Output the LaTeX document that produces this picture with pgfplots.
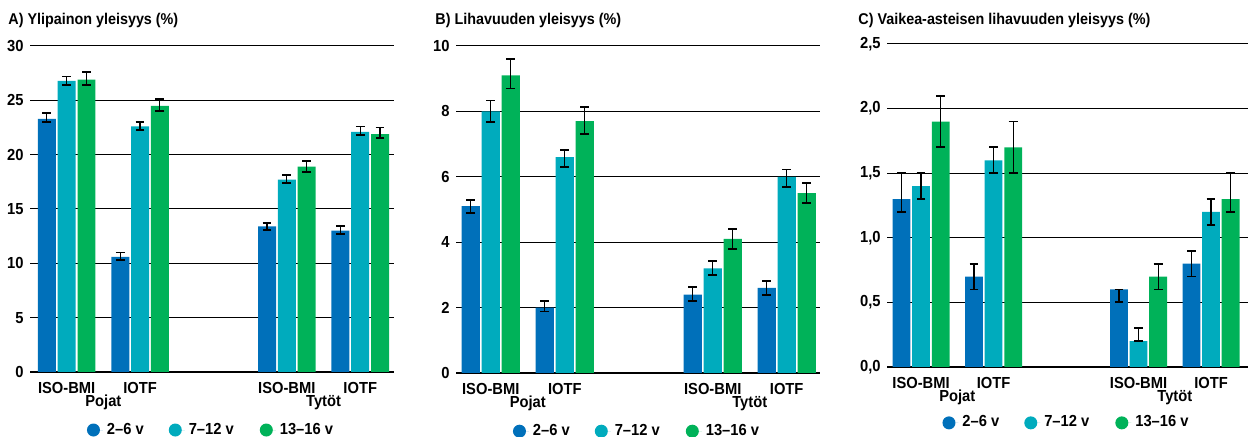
\documentclass[border=0pt]{standalone}
\usepackage{fontspec}
\setmainfont{Liberation Sans}[FakeStretch=0.92]
\usepackage{pgfplots}
\usepackage{pgfplotstable}
\pgfplotsset{compat=1.18}
\definecolor{cBlue}{HTML}{0070BA}
\definecolor{cCyan}{HTML}{00ABBD}
\definecolor{cGreen}{HTML}{00B259}
\newcommand\tf{\fontsize{7.8}{9}\selectfont\bfseries}
\newcommand\kf{\fontsize{8}{9}\selectfont\bfseries}

% x y1 p1 m1 (2-6 v) y2 p2 m2 (7-12 v) y3 p3 m3 (13-16 v)
\pgfplotstableread{
x y1 p1 m1 y2 p2 m2 y3 p3 m3
0 23.3 0.5 0.3 26.8 0.4 0.4 26.9 0.7 0.5
1 10.6 0.4 0.3 22.6 0.4 0.3 24.5 0.6 0.5
3 13.4 0.3 0.3 17.7 0.4 0.3 18.9 0.5 0.5
4 13.0 0.4 0.3 22.1 0.5 0.3 21.9 0.6 0.4
}\dataA
\pgfplotstableread{
x y1 p1 m1 y2 p2 m2 y3 p3 m3
0 5.1 0.2 0.2 8.0 0.33 0.32 9.1 0.5 0.4
1 2.0 0.2 0.12 6.6 0.23 0.3 7.7 0.43 0.4
3 2.4 0.24 0.2 3.2 0.23 0.2 4.1 0.3 0.3
4 2.6 0.22 0.22 6.0 0.22 0.3 5.5 0.32 0.3
}\dataB
\pgfplotstableread{
x y1 p1 m1 y2 p2 m2 y3 p3 m3
0 1.3 0.2 0.1 1.4 0.1 0.1 1.9 0.2 0.2
1 0.7 0.1 0.1 1.6 0.1 0.1 1.7 0.2 0.2
3 0.6 0.0 0.1 0.2 0.1 0.0 0.7 0.1 0.1
4 0.8 0.1 0.1 1.2 0.1 0.1 1.3 0.2 0.1
}\dataC

\pgfplotsset{
  panel/.style={
    scale only axis,
    anchor=south west,
    clip=false,
    ybar,
    bar width=0.245,
    ymin=0,
    axis line style={draw=none},
    major tick length=0pt,
    ymajorgrids,
    grid style={black, line width=0.5pt},
    extra y ticks={0},
    extra y tick labels={},
    extra y tick style={grid style={black, line width=1.1pt}},
    xtick={0,1,3,4},
    xticklabels={ISO-BMI,IOTF,ISO-BMI,IOTF},
    xticklabel style={anchor=base, yshift=-10.8pt, font=\kf},
    yticklabel style={anchor=east, inner sep=0pt, xshift=-3pt, font=\kf},
    /pgf/number format/assume math mode=true,
    legend columns=3,
    legend style={draw=none, fill=none, anchor=center, font=\kf,
      inner sep=0pt},
    legend image code/.code={\path (0pt,0pt) -- (8pt,0pt);\fill[##1] (3.25pt,0pt) circle (3.25pt);},
    legend entries={2–6 v\kern10.5pt,7–12 v\kern11pt,13–16 v},
    error bars/y dir=both,
    error bars/y explicit,
    error bars/error bar style={line width=0.6pt, black},
    error bars/error mark options={rotate=90, line width=0.9pt, mark size=2.2pt, black},
  },
  s1/.style={fill=cBlue, draw=none, bar shift=-0.27},
  s2/.style={fill=cCyan, draw=none, bar shift=0},
  s3/.style={fill=cGreen, draw=none, bar shift=0.27},
}

\begin{document}
\begin{tikzpicture}
\path[use as bounding box] (0,0) rectangle (624pt,218.5pt);

% Panel A
\node[anchor=base west, inner sep=0pt, font=\tf] at (4pt,206pt) {A) Ylipainon yleisyys (\%)};
\begin{axis}[panel, at={(15pt,32.5pt)}, width=182pt, height=163pt,
  xmin=-0.5, xmax=4.46, ymax=30, ytick={0,5,...,30},
  legend style={at={(0.5,-0.178)}}]
\addplot[s1] table[x=x, y=y1, y error plus=p1, y error minus=m1] {\dataA};
\addplot[s2] table[x=x, y=y2, y error plus=p2, y error minus=m2] {\dataA};
\addplot[s3] table[x=x, y=y3, y error plus=p3, y error minus=m3] {\dataA};
\node[anchor=base, font=\kf] at (axis cs:0.5,0) [yshift=-17.5pt] {Pojat};
\node[anchor=base, font=\kf] at (axis cs:3.5,0) [yshift=-17.5pt] {Tytöt};
\end{axis}

% Panel B
\node[anchor=base west, inner sep=0pt, font=\tf] at (217.5pt,206pt) {B) Lihavuuden yleisyys (\%)};
\begin{axis}[panel, at={(228pt,32pt)}, width=182pt, height=163.5pt,
  xmin=-0.47, xmax=4.45, ymax=10, ytick={0,2,...,10},
  legend style={at={(0.5,-0.178)}}]
\addplot[s1] table[x=x, y=y1, y error plus=p1, y error minus=m1] {\dataB};
\addplot[s2] table[x=x, y=y2, y error plus=p2, y error minus=m2] {\dataB};
\addplot[s3] table[x=x, y=y3, y error plus=p3, y error minus=m3] {\dataB};
\node[anchor=base, font=\kf] at (axis cs:0.5,0) [yshift=-17.5pt] {Pojat};
\node[anchor=base, font=\kf] at (axis cs:3.5,0) [yshift=-17.5pt] {Tytöt};
\end{axis}

% Panel C
\node[anchor=base west, inner sep=0pt, font=\tf] at (429pt,206pt) {C) Vaikea-asteisen lihavuuden yleisyys (\%)};
\begin{axis}[panel, at={(443.5pt,35pt)}, width=180.5pt, height=161.5pt,
  xmin=-0.47, xmax=4.51, ymax=2.5, ytick={0,0.5,...,2.5},
  yticklabel style={/pgf/number format/fixed, /pgf/number format/fixed zerofill,
    /pgf/number format/precision=1, /pgf/number format/use comma},
  legend style={at={(0.5,-0.173)}}]
\addplot[s1] table[x=x, y=y1, y error plus=p1, y error minus=m1] {\dataC};
\addplot[s2] table[x=x, y=y2, y error plus=p2, y error minus=m2] {\dataC};
\addplot[s3] table[x=x, y=y3, y error plus=p3, y error minus=m3] {\dataC};
\node[anchor=base, font=\kf] at (axis cs:0.5,0) [yshift=-17.5pt] {Pojat};
\node[anchor=base, font=\kf] at (axis cs:3.5,0) [yshift=-17.5pt] {Tytöt};
\end{axis}
\end{tikzpicture}
\end{document}
